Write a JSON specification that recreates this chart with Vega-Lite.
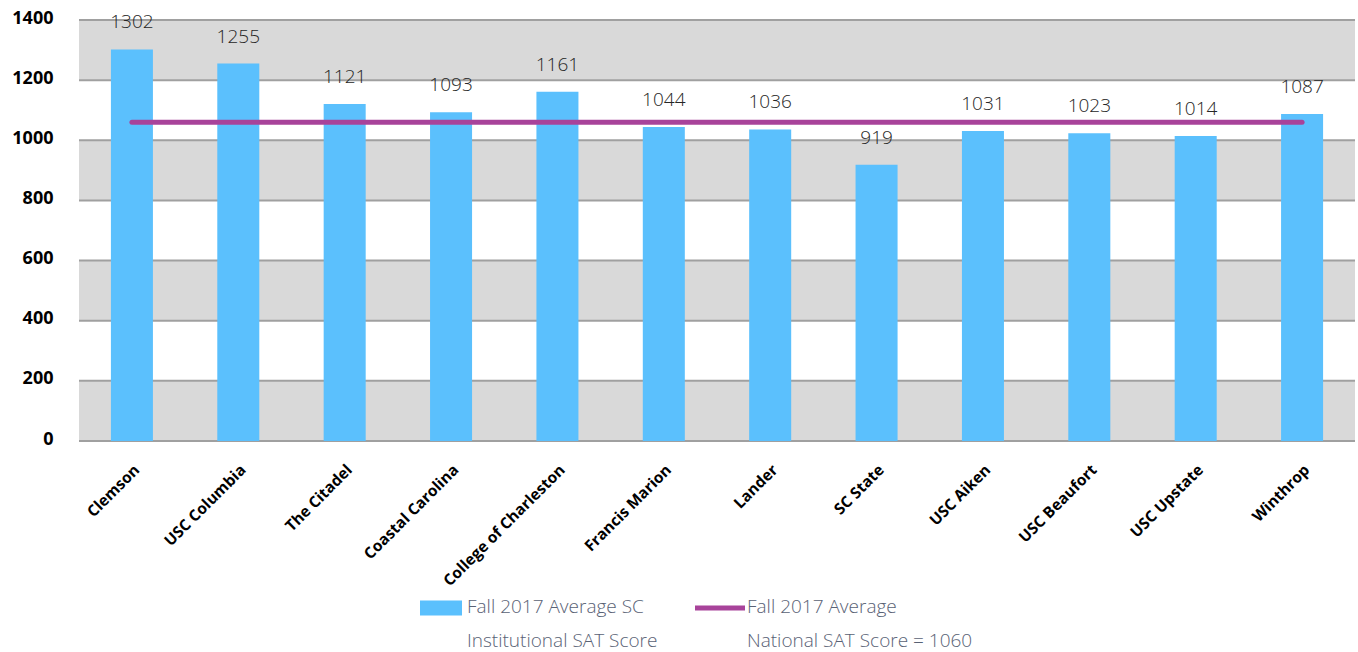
{
  "$schema": "https://vega.github.io/schema/vega-lite/v6.json",
  "width": 1276,
  "height": 421,
  "autosize": {"type": "none"},
  "padding": {"left": 79, "top": 20, "right": 3, "bottom": 211},
  "background": "white",
  "config": {"view": {"stroke": null}},
  "datasets": {
    "schools": [
      {"school": "Clemson", "score": 1302, "national": 1060},
      {"school": "USC Columbia", "score": 1255, "national": 1060},
      {"school": "The Citadel", "score": 1121, "national": 1060},
      {"school": "Coastal Carolina", "score": 1093, "national": 1060},
      {"school": "College of Charleston", "score": 1161, "national": 1060},
      {"school": "Francis Marion", "score": 1044, "national": 1060},
      {"school": "Lander", "score": 1036, "national": 1060},
      {"school": "SC State", "score": 919, "national": 1060},
      {"school": "USC Aiken", "score": 1031, "national": 1060},
      {"school": "USC Beaufort", "score": 1023, "national": 1060},
      {"school": "USC Upstate", "score": 1014, "national": 1060},
      {"school": "Winthrop", "score": 1087, "national": 1060}
    ],
    "bands": [
      {"lo": 0, "hi": 200},
      {"lo": 400, "hi": 600},
      {"lo": 800, "hi": 1000},
      {"lo": 1200, "hi": 1400}
    ],
    "grid": [
      {"v": 0}, {"v": 200}, {"v": 400}, {"v": 600},
      {"v": 800}, {"v": 1000}, {"v": 1200}, {"v": 1400}
    ]
  },
  "layer": [
    {
      "data": {"name": "bands"},
      "mark": {"type": "rect", "color": "#d9d9d9"},
      "encoding": {
        "y": {
          "field": "lo",
          "type": "quantitative",
          "scale": {"domain": [0, 1400], "nice": false},
          "axis": {
            "title": null,
            "values": [0, 200, 400, 600, 800, 1000, 1200, 1400],
            "format": "d",
            "grid": false,
            "ticks": false,
            "domain": false,
            "labelFont": "Open Sans",
            "labelFontWeight": "bold",
            "labelFontSize": 18,
            "labelColor": "#000000",
            "labelPadding": 26,
            "labelOffset": -2
          }
        },
        "y2": {"field": "hi"}
      }
    },
    {
      "data": {"name": "grid"},
      "mark": {"type": "rule", "color": "#a0a0a0", "strokeWidth": 2},
      "encoding": {
        "y": {"field": "v", "type": "quantitative", "title": null}
      }
    },
    {
      "data": {"name": "schools"},
      "mark": {"type": "bar"},
      "encoding": {
        "x": {
          "field": "school",
          "type": "nominal",
          "sort": null,
          "scale": {"paddingInner": 0.605, "paddingOuter": 0.3},
          "axis": {
            "title": null,
            "labelAngle": -45,
            "labelFont": "Open Sans",
            "labelFontWeight": "bold",
            "labelFontSize": 15.5,
            "labelColor": "#000000",
            "ticks": false,
            "domain": false,
            "labelPadding": 21
          }
        },
        "y": {"field": "score", "type": "quantitative", "title": null},
        "color": {
          "datum": "Fall 2017 Average SC|Institutional SAT Score",
          "type": "nominal",
          "scale": {
            "domain": ["Fall 2017 Average SC|Institutional SAT Score", "Fall 2017 Average|National SAT Score = 1060"],
            "range": ["#5bc0fd", "#a8439a"]
          },
          "legend": {
            "orient": "none",
            "legendX": 341,
            "legendY": 563,
            "direction": "horizontal",
            "columns": 2,
            "title": null,
            "symbolSize": 2500,
            "labelFont": "Open Sans",
            "labelFontSize": 19,
            "labelFontWeight": 300,
            "labelColor": "#596275",
            "labelOffset": 2,
            "columnPadding": 37,
            "labelLimit": 400,
            "labelBaseline": "top",
            "labelExpr": "split(datum.label, '|')",
            "encode": {
              "symbols": {
                "update": {
                  "shape": {"signal": "datum.value === 'Fall 2017 Average SC|Institutional SAT Score' ? 'M-1,-0.3H0.68V0.3H-1Z' : 'M-1,-0.1H1V0.1H-1Z'"},
                  "fill": {"signal": "datum.value === 'Fall 2017 Average SC|Institutional SAT Score' ? '#5bc0fd' : '#a8439a'"},
                  "stroke": {"value": "transparent"},
                  "strokeWidth": {"value": 0},
                  "opacity": {"value": 1}
                }
              },
              "labels": {
                "update": {
                  "lineHeight": {"value": 34},
                  "dy": {"value": -10},
                  "dx": {"signal": "datum.value === 'Fall 2017 Average SC|Institutional SAT Score' ? -5 : 0"}
                }
              }
            }
          }
        }
      }
    },
    {
      "data": {"name": "schools"},
      "mark": {"type": "line", "strokeWidth": 5, "strokeCap": "round"},
      "encoding": {
        "x": {"field": "school", "type": "nominal", "sort": null},
        "y": {"field": "national", "type": "quantitative", "title": null},
        "color": {"datum": "Fall 2017 Average|National SAT Score = 1060", "type": "nominal"}
      }
    },
    {
      "data": {"name": "schools"},
      "mark": {
        "type": "text",
        "dy": -27,
        "baseline": "middle",
        "font": "Open Sans",
        "fontWeight": 300,
        "fontSize": 19,
        "color": "#262626"
      },
      "encoding": {
        "x": {"field": "school", "type": "nominal", "sort": null},
        "y": {"field": "score", "type": "quantitative", "title": null},
        "text": {"field": "score", "type": "quantitative"}
      }
    }
  ]
}
